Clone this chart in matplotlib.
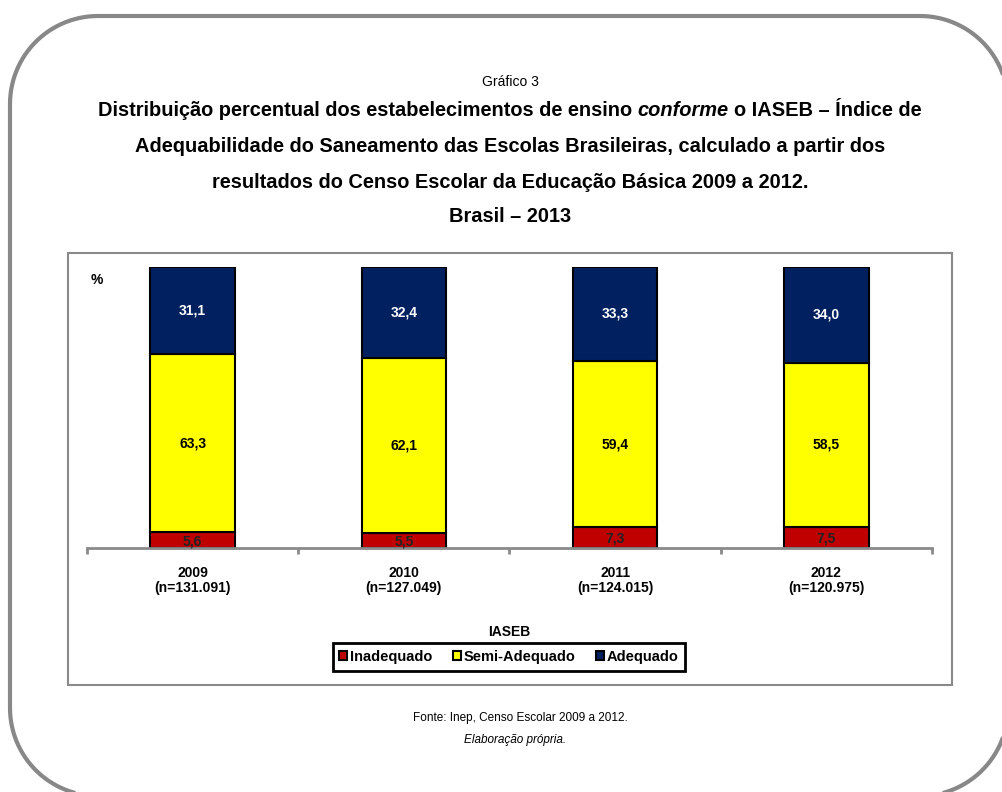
import numpy as np
import matplotlib.pyplot as plt
from matplotlib.patches import Rectangle, Patch, Polygon

plt.rcParams['font.family'] = ['Liberation Sans', 'DejaVu Sans']

anos = ['2009', '2010', '2011', '2012']
n_escolas = ['131.091', '127.049', '124.015', '120.975']
inadequado = [5.6, 5.5, 7.3, 7.5]
semi_adequado = [63.3, 62.1, 59.4, 58.5]
adequado = [31.1, 32.4, 33.3, 34.0]

series = [('Inadequado', inadequado, '#C00000', '#222222'),
          ('Semi-Adequado', semi_adequado, '#FFFF00', 'black'),
          ('Adequado', adequado, '#002060', 'white')]

W, H = 1003, 792
fig = plt.figure(figsize=(W / 100, H / 100), dpi=100)

# background axes in pixel units (y down)
bg = fig.add_axes([0, 0, 1, 1])
bg.set_xlim(0, W)
bg.set_ylim(H, 0)
bg.axis('off')


def rounded_box(x0, y0, x1, y1, r):
    pts = []
    corners = [(x1 - r, y0 + r, -90, 0), (x1 - r, y1 - r, 0, 90),
               (x0 + r, y1 - r, 90, 180), (x0 + r, y0 + r, 180, 270)]
    for cxx, cyy, a0, a1 in corners:
        t = np.radians(np.linspace(a0, a1, 30))
        pts += list(zip(cxx + r * np.cos(t), cyy + r * np.sin(t)))
    return Polygon(pts, closed=True, fill=False, ec='#888888', lw=3, clip_on=False)


bg.add_patch(rounded_box(10, 16, 1008, 796, 88))
bg.add_patch(Rectangle((68, 253), 884, 432, fill=False, ec='#8a8a8a', lw=1.5))

cx = 510
bg.text(cx, 82, 'Gráfico 3', ha='center', va='center', fontsize=10)

# first title line has an italic word in the middle
renderer = fig.canvas.get_renderer()
pieces = [('Distribuição percentual dos estabelecimentos de ensino', 'normal'),
          ('conforme', 'italic'),
          ('o IASEB – Índice de', 'normal')]
tfs = 14.4
sp = bg.text(0, 0, 'a a', fontsize=tfs, fontweight='bold')
sp2 = bg.text(0, 0, 'aa', fontsize=tfs, fontweight='bold')
space_w = sp.get_window_extent(renderer).width - sp2.get_window_extent(renderer).width
sp.remove()
sp2.remove()
objs = []
for txt, st in pieces:
    objs.append(bg.text(0, 110, txt, fontsize=tfs, fontweight='bold', style=st,
                        ha='left', va='center'))
widths = [o.get_window_extent(renderer).width for o in objs]
total = sum(widths) + space_w * (len(objs) - 1)
x0 = cx - total / 2
for o, w in zip(objs, widths):
    o.set_x(x0)
    x0 += w + space_w

for y, line in [(146, 'Adequabilidade do Saneamento das Escolas Brasileiras, calculado a partir dos'),
                (182, 'resultados do Censo Escolar da Educação Básica 2009 a 2012.'),
                (217, 'Brasil – 2013')]:
    bg.text(cx, y, line, ha='center', va='center', fontsize=tfs, fontweight='bold')

bg.text(97, 280, '%', ha='center', va='center', fontsize=10, fontweight='bold')

# main chart
ax = fig.add_axes([87 / W, 1 - 548 / H, (932 - 87) / W, (548 - 267) / H])
x = [i + 0.5 for i in range(len(anos))]
bottom = [0.0] * len(anos)
handles = []
for nome, vals, cor, tcor in series:
    ax.bar(x, vals, width=0.4, bottom=bottom, color=cor, edgecolor='black', linewidth=1.5)
    for xi, b, v in zip(x, bottom, vals):
        lab = f'{v:.1f}'.replace('.', ',')
        dy = -0.4 if nome == 'Inadequado' else 0
        ax.text(xi, b + v / 2 + dy, lab, ha='center', va='center', fontsize=10,
                fontweight='bold', color=tcor)
    bottom = [b + v for b, v in zip(bottom, vals)]
    handles.append(Patch(facecolor=cor, edgecolor='black', linewidth=1.5, label=nome))

ax.set_xlim(0, len(anos))
ax.set_ylim(0, 100)
for s in ['top', 'right', 'left']:
    ax.spines[s].set_visible(False)
ax.spines['bottom'].set_color('#8a8a8a')
ax.spines['bottom'].set_linewidth(2)
ax.set_yticks([])
ax.set_xticks(x)
ax.set_xticklabels([f'{a}\n(n={n})' for a, n in zip(anos, n_escolas)],
                   fontsize=10, fontweight='bold', linespacing=1.1)
ax.tick_params(axis='x', which='major', length=0, pad=13)
ax.set_xticks(range(len(anos) + 1), minor=True)
ax.tick_params(axis='x', which='minor', length=4, width=2, color='#8a8a8a')
ax.patch.set_alpha(0)

bg.text(509, 632, 'IASEB', ha='center', va='center', fontsize=10, fontweight='bold')
leg = fig.legend(handles=handles, loc='center', bbox_to_anchor=(509 / W, 1 - 657 / H), ncol=3,
                 frameon=True, fancybox=False, edgecolor='black', framealpha=1,
                 handlelength=0.55, handleheight=0.55, handletextpad=0.2, columnspacing=1.4,
                 borderpad=0.45, prop={'weight': 'bold', 'size': 10.5})
leg.get_frame().set_linewidth(2)

bg.text(520, 718, 'Fonte: Inep, Censo Escolar 2009 a 2012.', ha='center', va='center', fontsize=8.5)
bg.text(515, 740, 'Elaboração própria.', ha='center', va='center', fontsize=8.5, style='italic')

fig.savefig('out.png', dpi=100)
